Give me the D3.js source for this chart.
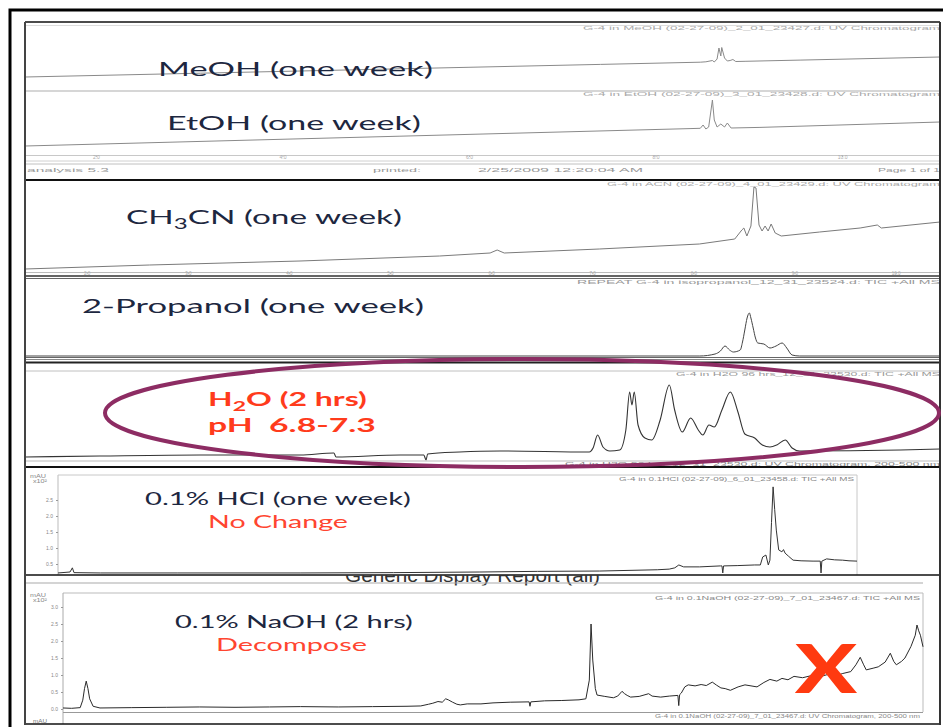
<!DOCTYPE html>
<html><head><meta charset="utf-8">
<script src="https://cdn.jsdelivr.net/npm/d3@7"></script>
<style>html,body{margin:0;padding:0;background:#fff;overflow:hidden}</style>
</head><body>
<script>
// ---------- DATA (time, signal) ----------
const meohTrace = [[1.24,11],[3.12,14.8],[5.26,19.2],[7.41,23.6],[8.48,25.8],[8.54,26.2],[8.61,27.5],[8.63,26],[8.66,29],[8.68,40],[8.70,32],[8.71,40.5],[8.74,30],[8.77,27],[8.80,27.5],[8.83,28.5],[8.86,26.5],[8.96,26.7],[9.55,27.9],[11.05,31]];
const etohTrace = [[1.24,4],[5.26,13.8],[8.37,21.4],[8.48,21.7],[8.51,25],[8.54,21],[8.57,23],[8.61,50],[8.63,30],[8.66,23],[8.70,26],[8.74,23],[8.77,27],[8.81,22],[9.12,22.6],[11.05,28]];
const ch3cnTrace = [[1.39,1],[2.62,5],[4.11,9],[5.49,14],[5.99,17],[6.06,20],[6.13,17],[7.07,21],[8.06,26],[8.41,31],[8.48,40],[8.50,42],[8.53,34],[8.57,44],[8.60,83],[8.62,82],[8.65,45],[8.68,39],[8.71,44],[8.74,39],[8.77,46],[8.81,37],[8.87,34],[9.25,38],[9.65,42],[9.82,45],[9.86,42],[10.44,48]];
const propanolTrace = [[0,0],[8.85,0],[9.05,2],[9.12,5],[9.18,10],[9.24,6],[9.29,4],[9.38,6],[9.41,14],[9.44,26],[9.47,38],[9.50,43],[9.52,38],[9.55,28],[9.58,18],[9.61,13],[9.69,12],[9.77,8],[9.85,10],[9.93,13],[9.99,8],[10.06,1],[10.16,0],[12,0]];
const h2oTrace = [[0,-2],[0.98,-1],[2.30,0],[3.61,0],[4.05,2],[4.08,-2],[4.92,0],[5.23,0],[5.26,-5],[5.28,1],[5.70,3],[6.23,4],[7.40,3],[7.45,7],[7.51,20],[7.58,8],[7.67,4],[7.80,5],[7.88,25],[7.93,63],[7.96,50],[7.99,63],[8.04,30],[8.13,17],[8.22,15],[8.33,35],[8.45,70],[8.52,45],[8.62,23],[8.73,37],[8.83,25],[8.89,20],[8.97,30],[9.04,28],[9.14,45],[9.25,63],[9.35,43],[9.44,21],[9.57,17],[9.67,10],[9.77,8],[9.86,10],[9.97,15],[10.06,7],[10.16,4],[11.48,5],[12,6]];
const hclTrace = [[0,0.22],[0.15,0.25],[0.18,0.38],[0.2,0.23],[0.53,0.22],[1.5,0.22],[3.03,0.22],[4.2,0.23],[5.28,0.25],[6.0,0.27],[6.78,0.28],[7.5,0.32],[7.65,0.34],[7.72,0.38],[7.77,0.47],[7.83,0.41],[8.03,0.41],[8.29,0.44],[8.31,0.44],[8.32,0.22],[8.33,0.44],[8.5,0.45],[8.72,0.47],[8.79,0.47],[8.82,0.72],[8.86,0.78],[8.89,0.47],[8.91,0.62],[8.93,1.8],[8.95,2.91],[8.97,2.2],[8.99,1.56],[9.02,0.94],[9.06,0.88],[9.08,0.95],[9.10,0.84],[9.14,0.75],[9.20,0.62],[9.30,0.6],[9.45,0.59],[9.54,0.59],[9.55,0.22],[9.56,0.59],[9.62,0.66],[9.72,0.63],[9.82,0.62],[9.9,0.6],[10,0.59]];
const naohTrace = [[0,0.03],[0.1,0.02],[0.2,0.04],[0.23,0.26],[0.25,0.6],[0.27,0.82],[0.29,0.6],[0.31,0.3],[0.35,0.08],[0.43,0.03],[0.8,0.04],[1.2,0.05],[1.59,0.06],[2.0,0.05],[2.4,0.06],[2.76,0.07],[3.2,0.06],[3.6,0.07],[4.0,0.08],[4.16,0.09],[4.25,0.14],[4.30,0.17],[4.36,0.22],[4.41,0.2],[4.45,0.3],[4.48,0.27],[4.53,0.2],[4.58,0.14],[4.62,0.12],[4.7,0.15],[4.86,0.15],[5.0,0.18],[5.2,0.2],[5.42,0.21],[5.43,0.08],[5.44,0.21],[5.6,0.24],[5.8,0.25],[6.0,0.27],[6.08,0.3],[6.12,0.85],[6.14,2.5],[6.16,1.44],[6.19,0.6],[6.21,0.41],[6.3,0.37],[6.40,0.33],[6.45,0.38],[6.50,0.52],[6.53,0.45],[6.56,0.4],[6.60,0.35],[6.7,0.37],[6.81,0.45],[6.85,0.38],[6.95,0.35],[7.05,0.38],[7.15,0.4],[7.16,0.1],[7.17,0.42],[7.19,0.47],[7.23,0.65],[7.27,0.71],[7.35,0.68],[7.42,0.72],[7.48,0.69],[7.55,0.79],[7.6,0.7],[7.65,0.62],[7.7,0.6],[7.76,0.55],[7.85,0.65],[7.93,0.71],[8.0,0.68],[8.07,0.65],[8.15,0.78],[8.22,0.87],[8.3,0.82],[8.36,0.9],[8.43,0.86],[8.50,0.96],[8.6,0.92],[8.7,0.98],[8.8,0.95],[8.9,1.02],[9.0,0.98],[9.06,1.04],[9.16,1.1],[9.22,1.3],[9.27,1.52],[9.31,1.3],[9.34,1.15],[9.42,1.2],[9.48,1.24],[9.56,1.38],[9.62,1.64],[9.66,1.4],[9.69,1.3],[9.75,1.4],[9.79,1.5],[9.86,1.84],[9.91,2.17],[9.93,2.47],[9.95,2.3],[9.97,2.17],[10,1.83]];

// ---------- TEXT / TICKS ----------
const labelMeOH = [["MeOH (one week)",0]];
const labelEtOH = [["EtOH (one week)",0]];
const labelCH3CN = [["CH",0],["3",1],["CN (one week)",0]];
const labelPropanol = [["2-Propanol (one week)",0]];
const labelH2O = [["H",0],["2",1],["O (2 hrs)",0]];
const labelPH = [["pH  6.8-7.3",0]];
const labelHCl = [["0.1% HCl (one week)",0]];
const labelNoChange = [["No Change",0]];
const labelNaOH = [["0.1% NaOH (2 hrs)",0]];
const labelDecompose = [["Decompose",0]];
const headerTexts = [
  "G-4 in MeOH (02-27-09)_2_01_23427.d: UV Chromatogram",
  "G-4 in EtOH (02-27-09)_3_01_23428.d: UV Chromatogram",
  "G-4 in ACN (02-27-09)_4_01_23429.d: UV Chromatogram",
  "REPEAT G-4 in isopropanol_12_31_23524.d: TIC +All MS",
  "G-4 in H2O 96 hrs_12_31_23530.d: TIC +All MS",
  "G-4 in H2O 96 hrs_12_31_23530.d: UV Chromatogram, 200-500 nm",
  "G-4 in 0.1HCl (02-27-09)_6_01_23458.d: TIC +All MS",
  "G-4 in 0.1NaOH (02-27-09)_7_01_23467.d: TIC +All MS",
  "G-4 in 0.1NaOH (02-27-09)_7_01_23467.d: UV Chromatogram, 200-500 nm"
];
const pageStrip = ["analysis 5.3","printed:","2/25/2009 12:20:04 AM","Page 1 of 1"];
const reportTitle = "Generic Display Report (all)";
const axisTicksA = [2,4,6,8,10];
const axisTicksC = [2,3,4,5,6,7,8,9,10];
const hclYTicks = [0.5,1.0,1.5,2.0,2.5];
const naohYTicks = [0,0.5,1.0,1.5,2.0,2.5,3.0];
const yUnit = ["mAU","x10\u00B2"];

// ---------- SCALES ----------
const xA = d3.scaleLinear().domain([1.24,11.05]).range([25,940]);
const yMeOH = d3.scaleLinear().domain([0,60]).range([88,28]);
const yEtOH = d3.scaleLinear().domain([0,60]).range([150,90]);
const xC = d3.scaleLinear().domain([1.39,10.44]).range([25,940]);
const yC = d3.scaleLinear().domain([0,100]).range([270,170]);
const xP = d3.scaleLinear().domain([0,12]).range([25,940]);
const yP = d3.scaleLinear().domain([0,50]).range([356,306]);
const yW = d3.scaleLinear().domain([0,80]).range([455,375]);
const xH = d3.scaleLinear().domain([0,10]).range([58,857]);
const yH = d3.scaleLinear().domain([0,3]).range([580,484]);
const xN = d3.scaleLinear().domain([0,10]).range([63,923]);
const yN = d3.scaleLinear().domain([0,3]).range([709,607]);

// ---------- DRAW ----------
const svg = d3.select("body").append("svg").attr("width",943).attr("height",727).style("display","block");
svg.append("rect").attr("width",943).attr("height",727).attr("fill","#fff");
const defs = svg.append("defs");
defs.append("clipPath").attr("id","clipReport").append("rect").attr("x",0).attr("y",575.5).attr("width",943).attr("height",10);

function hline(y,x1,x2,c,w){svg.append("line").attr("x1",x1).attr("x2",x2).attr("y1",y).attr("y2",y).attr("stroke",c).attr("stroke-width",w);}
function vline(x,y1,y2,c,w){svg.append("line").attr("x1",x).attr("x2",x).attr("y1",y1).attr("y2",y2).attr("stroke",c).attr("stroke-width",w);}
function tiny(x,y,t,len,fs,col){const e=svg.append("text").attr("x",x).attr("y",y).attr("font-family","Liberation Sans, Arial").attr("font-size",fs||6).attr("fill",col||"#9a9a9a").text(t);if(len)e.attr("textLength",len).attr("lengthAdjust","spacingAndGlyphs");return e;}
function trace(data,xs,ys,col,w,curve){
  const line=d3.line().x(d=>xs(d[0])).y(d=>ys(d[1])).curve(curve||d3.curveLinear);
  svg.append("path").datum(data).attr("d",line).attr("fill","none").attr("stroke",col).attr("stroke-width",w).attr("stroke-linejoin","round");
}
function label(parts,x0,x1,base,fs,col,weight){
  const g=svg.append("g");
  const t=g.append("text").attr("font-family","Lato, 'Open Sans', sans-serif").attr("font-size",fs).attr("fill",col).attr("font-weight",weight||"normal").style("white-space","pre");
  parts.forEach((p,i)=>{
    const ts=t.append("tspan").text(p[0]);
    if(p[1]){ts.attr("font-size",fs*0.72).attr("dy",fs*0.25);}
    else if(i>0&&parts[i-1][1]){ts.attr("dy",-fs*0.25);}
  });
  const w=t.node().getBBox().width;
  g.attr("transform",`translate(${x0},${base}) scale(${(x1-x0)/w},1)`);
}

// outer frame
svg.append("path").attr("d","M10,727 V10 H943").attr("fill","none").attr("stroke","#000").attr("stroke-width",3);

// ===== Block A: MeOH / EtOH =====
hline(22,25,940,"#111",1.6);
hline(25.5,25,940,"#ddd",1);
tiny(583,30,headerTexts[0],357,6,"#aaa");
trace(meohTrace,xA,yMeOH,"#8a8a8a",1);
hline(91,25,940,"#c8c8c8",1.3);
tiny(583,96,headerTexts[1],357,6,"#aaa");
trace(etohTrace,xA,yEtOH,"#8a8a8a",1);
const axA=svg.append("g").attr("transform","translate(0,155)").call(d3.axisBottom(xA).tickValues(axisTicksA).tickSize(2).tickFormat(d3.format(".1f")));
axA.select(".domain").attr("stroke","#c8c8c8");
axA.selectAll(".tick line").attr("stroke","#bbb");
axA.selectAll(".tick text").attr("font-size",5).attr("fill","#aaa").attr("dy","-0.2em");
hline(161,25,940,"#d0d0d0",1);
hline(164,25,940,"#c0c0c0",1);
tiny(27,172,pageStrip[0],82,6,"#999");
tiny(373,172,pageStrip[1],48,6,"#999");
tiny(478,172,pageStrip[2],165,6,"#999");
tiny(878,172,pageStrip[3],62,6,"#999");
label(labelMeOH,158,433,76,20,"#1d2740");
label(labelEtOH,167,421,130,20,"#1d2740");
hline(180,25,940,"#111",2);

// ===== Block C: CH3CN =====
tiny(607,186,headerTexts[2],333,6,"#aaa");
trace(ch3cnTrace,xC,yC,"#7a7a7a",1);
const axC=svg.append("g").attr("transform","translate(0,272)").call(d3.axisBottom(xC).tickValues(axisTicksC).tickSize(2).tickFormat(d3.format(".1f")));
axC.select(".domain").attr("stroke","#bbb");
axC.selectAll(".tick line").attr("stroke","#bbb");
axC.selectAll(".tick text").attr("font-size",4.5).attr("fill","#aaa").attr("dy","-0.4em");
label(labelCH3CN,126,402,224,20,"#1d2740");
hline(276,25,940,"#333",1.5);
hline(278.5,25,940,"#666",1);

// ===== Block P: 2-Propanol =====
tiny(577,284,headerTexts[3],363,6,"#999");
trace(propanolTrace,xP,yP,"#444",1,d3.curveMonotoneX);
label(labelPropanol,82,424,313,20,"#1d2740");
hline(357.5,25,940,"#666",1);
hline(359.5,25,940,"#888",1);
hline(362.5,25,940,"#222",2);

// ===== Block W: H2O =====
hline(371,25,940,"#c0c0c0",1);
tiny(676,376,headerTexts[4],264,6,"#999");
trace(h2oTrace,xP,yW,"#333",1.1,d3.curveMonotoneX);
hline(461,25,940,"#bbb",1);
tiny(565,466,headerTexts[5],375,6,"#888");
label(labelH2O,208,367,406,18,"#ff3b1c","bold");
label(labelPH,208,376,432,18,"#ff3b1c","bold");
hline(467,25,940,"#111",2);

// ===== Block H: HCl =====
vline(58,475,575,"#bbb",1);
hline(475,58,857,"#c8c8c8",1);
vline(857,475,575,"#c8c8c8",1);
tiny(619,481,headerTexts[6],235,5.5,"#888");
tiny(30,478,yUnit[0],16,4.5,"#888");
tiny(33,483,yUnit[1],14,4.5,"#888");
const ayH=svg.append("g").attr("transform","translate(58,0)").call(d3.axisLeft(yH).tickValues(hclYTicks).tickSize(2).tickFormat(d3.format(".1f")));
ayH.select(".domain").remove();
ayH.selectAll(".tick line").attr("stroke","#999");
ayH.selectAll(".tick text").attr("font-size",5).attr("fill","#888");
trace(hclTrace,xH,yH,"#333",1);
label(labelHCl,145,411,505,17,"#1d2740");
label(labelNoChange,208,348,528,17,"#ff4530");
// clipped report heading
svg.append("text").attr("clip-path","url(#clipReport)").attr("x",345).attr("y",582).attr("font-family","Liberation Sans, Arial").attr("font-size",19).attr("fill","#333").attr("textLength",255).attr("lengthAdjust","spacingAndGlyphs").text(reportTitle);
hline(575,25,940,"#111",1.6);

// ===== Block N: NaOH =====
hline(583,25,923,"#aaa",1.2);
hline(593,63,923,"#bbb",1);
vline(63,593,724,"#aaa",1);
vline(923,593,712,"#bbb",1);
hline(712.5,63,923,"#999",1);
tiny(655,600,headerTexts[7],265,5.5,"#888");
tiny(655,718,headerTexts[8],265,5.5,"#888");
tiny(30,597,yUnit[0],16,4.5,"#888");
tiny(33,602,yUnit[1],14,4.5,"#888");
tiny(33,723,yUnit[0],14,5,"#777");
const ayN=svg.append("g").attr("transform","translate(63,0)").call(d3.axisLeft(yN).tickValues(naohYTicks).tickSize(2).tickFormat(d3.format(".1f")));
ayN.select(".domain").remove();
ayN.selectAll(".tick line").attr("stroke","#999");
ayN.selectAll(".tick text").attr("font-size",5).attr("fill","#888");
trace(naohTrace,xN,yN,"#2a2a2a",1);
label(labelNaOH,175,413,628,17,"#1d2740");
label(labelDecompose,216,367,651,17,"#ff4530");
// big X
svg.append("text").attr("x",795).attr("y",693).attr("font-family","Lato, sans-serif").attr("font-weight","900").attr("font-size",66).attr("fill","#ff3a10").attr("textLength",62).attr("lengthAdjust","spacingAndGlyphs").text("X");
hline(724,25,940,"#111",1.6);

// inner panel side borders
vline(25,22,725,"#444",2);
vline(940,22,725,"#333",2);

// ellipse highlight
svg.append("ellipse").attr("cx",522).attr("cy",413).attr("rx",417).attr("ry",54).attr("fill","none").attr("stroke","#8d2c63").attr("stroke-width",4);
</script>
</body></html>
